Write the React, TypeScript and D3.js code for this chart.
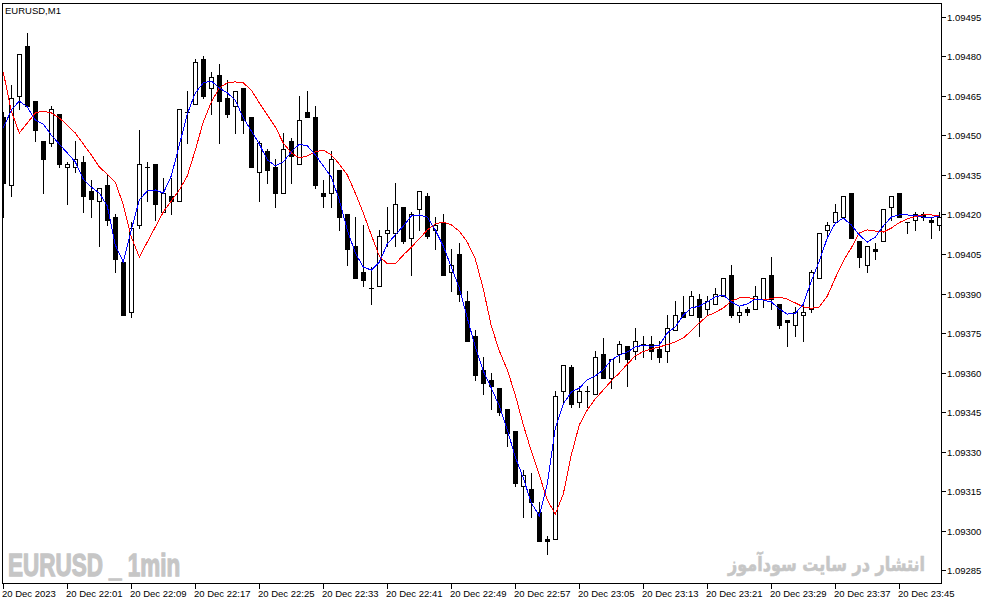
import * as d3 from 'd3';

// EURUSD M1 candles, 20 Dec 2023 21:53 .. 23:50
const OPEN = [
  1.09457, 1.09431, 1.09465, 1.09484, 1.09463, 1.09448, 1.09447, 1.09458, 1.09438, 1.09438,
  1.0944, 1.09429, 1.09425, 1.09431, 1.09419, 1.09402, 1.09383, 1.09416, 1.09438, 1.09439,
  1.09421, 1.09427, 1.09425, 1.09459, 1.09462, 1.09479, 1.09468, 1.09473, 1.09464, 1.09461,
  1.09468, 1.09457, 1.09436, 1.09444, 1.09438, 1.09428, 1.09448, 1.09439, 1.09459, 1.09457,
  1.09428, 1.09428, 1.09437, 1.0942, 1.09408, 1.09398, 1.09392, 1.09393, 1.09413, 1.09413,
  1.09423, 1.09411, 1.09422, 1.09427, 1.09414, 1.09417, 1.09398, 1.09405, 1.09387, 1.09374,
  1.09361, 1.09357, 1.09354, 1.09346, 1.09338, 1.09317, 1.09316, 1.09307, 1.09297, 1.09297,
  1.09353, 1.09362, 1.09349, 1.09353, 1.09352, 1.09367, 1.09358, 1.09367, 1.0937, 1.09368,
  1.09371, 1.09371, 1.09369, 1.09368, 1.09376, 1.09383, 1.09382, 1.09388, 1.09384, 1.09386,
  1.09389, 1.09397, 1.09382, 1.09384, 1.09384, 1.09388, 1.09397, 1.09386, 1.0938, 1.09378,
  1.09382, 1.09384, 1.09396, 1.09414, 1.09417, 1.09419, 1.09428, 1.0941, 1.09401, 1.09407,
  1.0941, 1.09423, 1.09428, 1.09417, 1.09418, 1.0942, 1.09418, 1.09416,
];
const HIGH = [
  1.09459, 1.09469, 1.09481, 1.09489, 1.09463, 1.09448, 1.09461, 1.09458, 1.0944, 1.09448,
  1.09442, 1.09433, 1.0943, 1.09435, 1.0942, 1.09402, 1.09417, 1.09452, 1.0944, 1.09439,
  1.09434, 1.09434, 1.0946, 1.09467, 1.09479, 1.0948, 1.09474, 1.09477, 1.09471, 1.09467,
  1.09468, 1.09457, 1.09448, 1.09445, 1.09441, 1.09451, 1.09449, 1.09465, 1.09467, 1.09461,
  1.09433, 1.09444, 1.09437, 1.0942, 1.09419, 1.09416, 1.094, 1.09414, 1.09423, 1.09432,
  1.09423, 1.09421, 1.09429, 1.09428, 1.09419, 1.0942, 1.09407, 1.09409, 1.09391, 1.09376,
  1.09366, 1.0936, 1.09354, 1.09346, 1.09338, 1.09323, 1.09322, 1.09311, 1.09298, 1.09353,
  1.09363, 1.09363, 1.09355, 1.09355, 1.09368, 1.09373, 1.09365, 1.09372, 1.0937, 1.09377,
  1.09374, 1.09374, 1.09372, 1.09382, 1.09387, 1.09389, 1.09391, 1.0939, 1.09389, 1.09392,
  1.09396, 1.09401, 1.09385, 1.09385, 1.09393, 1.09396, 1.09404, 1.09386, 1.0938, 1.09385,
  1.09386, 1.09399, 1.09413, 1.09417, 1.09424, 1.09427, 1.09428, 1.0941, 1.09408, 1.09409,
  1.09422, 1.09427, 1.09428, 1.09417, 1.09421, 1.09421, 1.09419, 1.09421,
];
const LOW = [
  1.09419, 1.09427, 1.0946, 1.09461, 1.09448, 1.09428, 1.09446, 1.09438, 1.09424, 1.09436,
  1.09421, 1.09419, 1.09408, 1.09416, 1.09398, 1.09382, 1.09381, 1.09415, 1.09425, 1.09418,
  1.09421, 1.0942, 1.09425, 1.09447, 1.09462, 1.09464, 1.09458, 1.09447, 1.09457, 1.09451,
  1.09451, 1.09438, 1.09425, 1.09432, 1.09423, 1.09428, 1.09432, 1.09439, 1.09457, 1.0943,
  1.09423, 1.09423, 1.09414, 1.09401, 1.09396, 1.09393, 1.09386, 1.09393, 1.09408, 1.09408,
  1.09409, 1.09397, 1.09414, 1.09411, 1.09407, 1.09397, 1.09391, 1.09387, 1.09372, 1.09357,
  1.09352, 1.09346, 1.09344, 1.09332, 1.09317, 1.09305, 1.09305, 1.09296, 1.09291, 1.09297,
  1.09348, 1.09347, 1.09347, 1.09347, 1.09352, 1.09358, 1.09354, 1.09364, 1.09355, 1.09365,
  1.09366, 1.09365, 1.09364, 1.09364, 1.09376, 1.09381, 1.09382, 1.09374, 1.09382, 1.09386,
  1.09389, 1.09381, 1.09379, 1.09382, 1.09384, 1.09385, 1.09384, 1.09377, 1.0937, 1.09374,
  1.09372, 1.09383, 1.09396, 1.09411, 1.09417, 1.09419, 1.09411, 1.094, 1.09398, 1.09403,
  1.0941, 1.09418, 1.09419, 1.09413, 1.09414, 1.09418, 1.09411, 1.09414,
];
const CLOSE = [
  1.09432, 1.09464, 1.09481, 1.09461, 1.09452, 1.09441, 1.0946, 1.09439, 1.09439, 1.09441,
  1.09427, 1.09426, 1.0943, 1.09418, 1.09403, 1.09382, 1.09415, 1.09439, 1.09438, 1.09424,
  1.09428, 1.09425, 1.0946, 1.09459, 1.09478, 1.09465, 1.09472, 1.09463, 1.09458, 1.09467,
  1.09456, 1.09438, 1.09447, 1.09437, 1.09428, 1.09445, 1.09442, 1.09456, 1.09457, 1.09431,
  1.09427, 1.09441, 1.09419, 1.09407, 1.09396, 1.09395, 1.09392, 1.09412, 1.09414, 1.09424,
  1.0941, 1.0942, 1.09429, 1.09412, 1.09416, 1.09397, 1.09401, 1.0939, 1.09372, 1.09359,
  1.09356, 1.09355, 1.09345, 1.09337, 1.09318, 1.09321, 1.09311, 1.09296, 1.09296, 1.09351,
  1.09363, 1.09348, 1.09353, 1.09353, 1.09366, 1.09358, 1.09365, 1.09371, 1.09365, 1.09372,
  1.09371, 1.09368, 1.09366, 1.09377, 1.09382, 1.09381, 1.09389, 1.09381, 1.09387, 1.0939,
  1.09396, 1.09382, 1.09383, 1.09383, 1.09389, 1.09396, 1.09388, 1.09378, 1.09379, 1.09383,
  1.09383, 1.09398, 1.09413, 1.09416, 1.09421, 1.09427, 1.09411, 1.09404, 1.09408, 1.09406,
  1.09422, 1.09427, 1.09419, 1.09417, 1.0942, 1.09419, 1.09417, 1.09419,
];

// fast moving average (blue)
const MA_FAST = [
  1.09453, 1.094598, 1.094632, 1.09461, 1.09456, 1.094545, 1.094503, 1.094469, 1.094435, 1.094401,
  1.094336, 1.094306, 1.094283, 1.094234, 1.094086, 1.094021, 1.094143, 1.094257, 1.094291, 1.094295,
  1.094283, 1.094348, 1.094465, 1.094583, 1.094663, 1.094701, 1.094708, 1.094682, 1.094663, 1.094636,
  1.094568, 1.094519, 1.094469, 1.094409, 1.094386, 1.094401, 1.094439, 1.094469, 1.094462, 1.094428,
  1.094386, 1.094344, 1.094257, 1.094143, 1.094056, 1.094002, 1.093991, 1.094021, 1.09409, 1.094124,
  1.094158, 1.094196, 1.0942, 1.094192, 1.094143, 1.094082, 1.094002, 1.093923, 1.093809, 1.093699,
  1.093608, 1.093543, 1.093475, 1.093384, 1.093281, 1.093202, 1.093107, 1.093058, 1.093179, 1.093392,
  1.093483, 1.093528, 1.093543, 1.093574, 1.093589, 1.093612, 1.09365, 1.093668, 1.09368, 1.093699,
  1.093706, 1.093701, 1.093706, 1.093752, 1.093775, 1.09382, 1.093847, 1.093854, 1.09387, 1.093889,
  1.093896, 1.09387, 1.093854, 1.093862, 1.093881, 1.093877, 1.09387, 1.093843, 1.093824, 1.093826,
  1.093862, 1.093949, 1.094025, 1.094113, 1.094169, 1.094188, 1.094162, 1.094124, 1.094097, 1.094116,
  1.094158, 1.094192, 1.0942, 1.0942, 1.094198, 1.094192, 1.09419, 1.094196,
];

// slow moving average (red)
const MA_SLOW = [
  1.094742, 1.094594, 1.094511, 1.094549, 1.094587, 1.094594, 1.094587, 1.094568, 1.094541, 1.094511,
  1.094469, 1.094428, 1.094382, 1.094355, 1.094325, 1.094238, 1.094116, 1.09404, 1.094097, 1.094154,
  1.094211, 1.094253, 1.094295, 1.094348, 1.094446, 1.094553, 1.094629, 1.094682, 1.094701, 1.094705,
  1.094701, 1.094674, 1.094625, 1.094579, 1.094534, 1.094473, 1.094435, 1.094416, 1.094424, 1.094439,
  1.094446, 1.094428, 1.094393, 1.094352, 1.094283, 1.094207, 1.094124, 1.094044, 1.094014, 1.094014,
  1.094048, 1.094078, 1.094109, 1.094143, 1.094166, 1.094173, 1.094162, 1.094139, 1.094097, 1.094033,
  1.093919, 1.093779, 1.093684, 1.093612, 1.093517, 1.093403, 1.093304, 1.093213, 1.093118, 1.093065,
  1.093141, 1.093289, 1.093403, 1.09346, 1.093502, 1.093536, 1.09357, 1.0936, 1.093634, 1.093665,
  1.093682, 1.093691, 1.093699, 1.093708, 1.093718, 1.093733, 1.09376, 1.09379, 1.093817, 1.09383,
  1.093847, 1.093873, 1.093885, 1.093887, 1.093881, 1.093877, 1.093883, 1.093888, 1.093881, 1.093866,
  1.093851, 1.093846, 1.093851, 1.093892, 1.093961, 1.094025, 1.094075, 1.094132, 1.094143, 1.094139,
  1.094135, 1.09415, 1.094171, 1.094185, 1.094194, 1.0942, 1.0942, 1.094196,
];

const PRICE_TICKS = [
  1.09285, 1.093, 1.09315, 1.0933, 1.09345, 1.0936, 1.09375, 1.0939,
  1.09405, 1.0942, 1.09435, 1.0945, 1.09465, 1.0948, 1.09495,
];

// one label every 8 bars, starting at bar 0
const TIME_LABELS = [
  '20 Dec 2023', '20 Dec 22:01', '20 Dec 22:09', '20 Dec 22:17', '20 Dec 22:25',
  '20 Dec 22:33', '20 Dec 22:41', '20 Dec 22:49', '20 Dec 22:57', '20 Dec 23:05',
  '20 Dec 23:13', '20 Dec 23:21', '20 Dec 23:29', '20 Dec 23:37', '20 Dec 23:45',
];
const LABEL_STEP = 8;

const W = 987;
const H = 605;
// chart frame
const LEFT = 2.5;
const RIGHT = 941.5;
const TOP = 3.5;
const BOTTOM = 583.5;

const AXIS_FONT = '"Liberation Sans", Arial, sans-serif';
const MARK_GREY = '#c6c6c6';

export default function App() {
  const n = OPEN.length;

  const x = d3.scaleLinear().domain([0, n - 1]).range([3.3, 939.3]);
  const y = d3.scaleLinear().domain([1.09285, 1.09495]).range([570.7, 17.3]);

  // snap to pixel centres so 1px strokes stay crisp
  const px = (v: number) => Math.round(v - 0.5) + 0.5;

  const maLine = d3
    .line<number>()
    .x((_, i) => x(i))
    .y((d) => y(d));

  return (
    <div style={{ position: 'fixed', left: 0, top: 0, width: W, height: H, background: '#fff' }}>
      <svg width={W} height={H} viewBox={`0 0 ${W} ${H}`} style={{ display: 'block' }}>
        <defs>
          <clipPath id="plot">
            <rect x={3} y={4} width={RIGHT - 3.5} height={BOTTOM - 4.5} />
          </clipPath>
        </defs>
        <rect x={0} y={0} width={W} height={H} fill="#fff" />

        {/* watermarks (condensed by a horizontal scale) */}
        <text
          transform="translate(8,576) scale(0.725,1)"
          fontFamily={AXIS_FONT}
          fontWeight="bold"
          fontSize={31}
          fill={MARK_GREY}
          stroke={MARK_GREY}
          strokeWidth={1.3}
        >
          EURUSD _ 1min
        </text>
        <text
          transform="translate(826.5,571) scale(0.8,1)"
          fontFamily='"DejaVu Sans", sans-serif'
          fontWeight="bold"
          fontSize={20}
          fill={MARK_GREY}
          stroke={MARK_GREY}
          strokeWidth={0.6}
          textAnchor="middle"
        >
          انتشار در سایت سودآموز
        </text>

        <g clipPath="url(#plot)" shapeRendering="crispEdges">
          {/* candles */}
          {OPEN.map((o, i) => {
            const c = CLOSE[i];
            const cx = px(x(i));
            const yo = px(y(o));
            const yc = px(y(c));
            const yh = px(y(HIGH[i]));
            const yl = px(y(LOW[i]));
            const top = Math.min(yo, yc);
            const bot = Math.max(yo, yc);
            return (
              <g key={i}>
                <line x1={cx} x2={cx} y1={yh - 0.5} y2={yl + 0.5} stroke="#000" strokeWidth={1} />
                {o === c ? (
                  <line x1={cx - 2.5} x2={cx + 2.5} y1={yo} y2={yo} stroke="#000" strokeWidth={1} />
                ) : (
                  <rect
                    x={cx - 2}
                    y={top}
                    width={4}
                    height={Math.max(bot - top, 1)}
                    fill={c < o ? '#000' : '#fff'}
                    stroke="#000"
                    strokeWidth={1}
                  />
                )}
              </g>
            );
          })}

          {/* moving averages */}
          <path d={maLine(MA_SLOW) ?? ''} fill="none" stroke="#ff0000" strokeWidth={1} />
          <path d={maLine(MA_FAST) ?? ''} fill="none" stroke="#0000ff" strokeWidth={1} />
        </g>

        {/* frame */}
        <rect
          x={LEFT}
          y={TOP}
          width={RIGHT - LEFT}
          height={BOTTOM - TOP}
          fill="none"
          stroke="#000"
          strokeWidth={1}
          shapeRendering="crispEdges"
        />

        {/* symbol caption */}
        <text x={5} y={14} fontFamily={AXIS_FONT} fontSize={9.5} fill="#000">
          EURUSD,M1
        </text>

        {/* price axis */}
        {PRICE_TICKS.map((p) => {
          const ty = px(y(p));
          return (
            <g key={p}>
              <line x1={RIGHT} x2={RIGHT + 4} y1={ty} y2={ty} stroke="#000" shapeRendering="crispEdges" />
              <text x={947} y={ty + 3.5} fontFamily={AXIS_FONT} fontSize={9.5} fill="#000">
                {p.toFixed(5)}
              </text>
            </g>
          );
        })}

        {/* time axis */}
        {TIME_LABELS.map((label, k) => {
          const tx = px(x(k * LABEL_STEP));
          return (
            <g key={label}>
              <line x1={tx} x2={tx} y1={BOTTOM} y2={BOTTOM + 5} stroke="#000" shapeRendering="crispEdges" />
              <text x={tx - 1.5} y={597} fontFamily={AXIS_FONT} fontSize={9.5} fill="#000">
                {label}
              </text>
            </g>
          );
        })}
      </svg>
    </div>
  );
}
